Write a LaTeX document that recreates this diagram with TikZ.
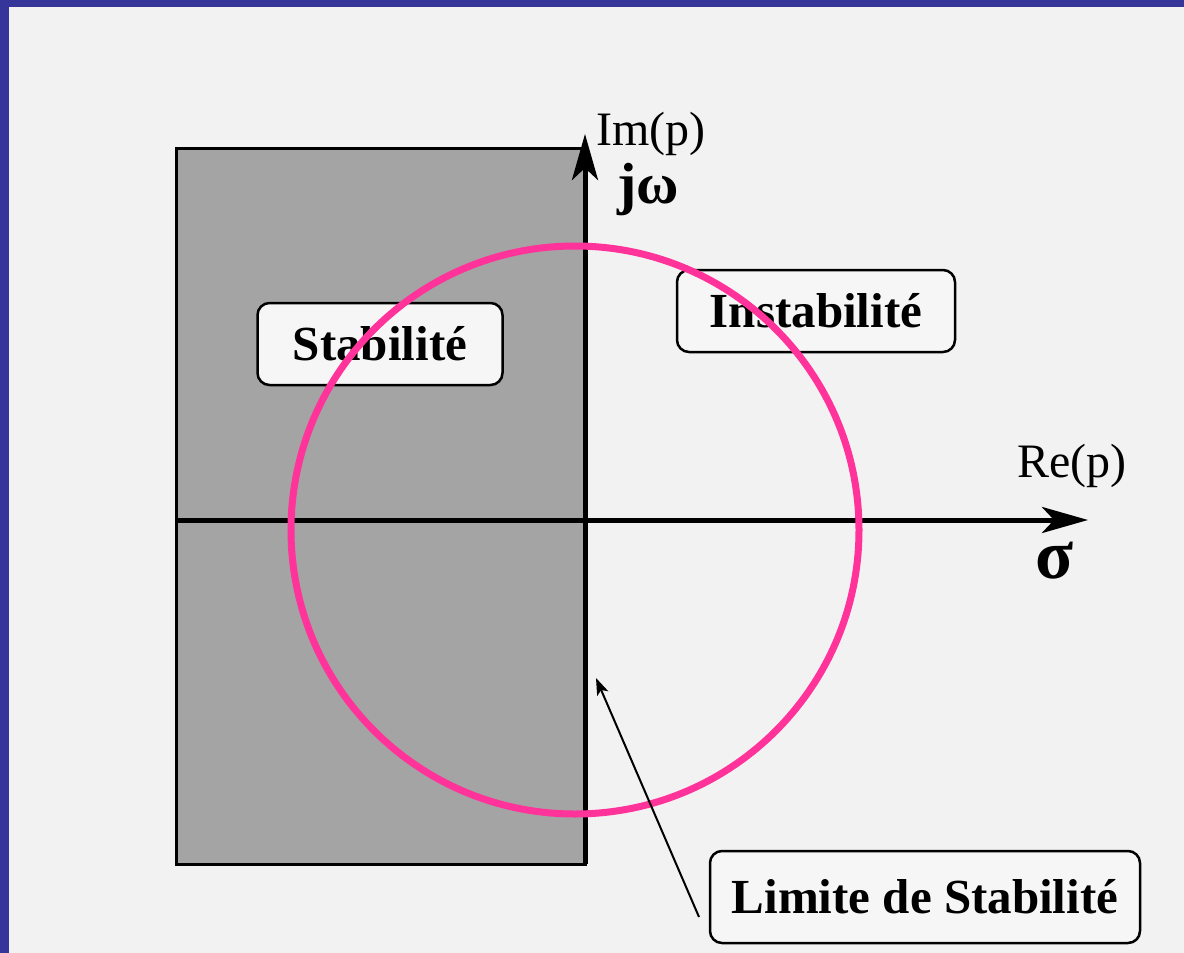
\documentclass[tikz,border=0pt]{standalone}
\usepackage{fontspec}
\setmainfont{Liberation Serif}
\usetikzlibrary{arrows.meta}
\definecolor{bluebord}{RGB}{54,54,154}
\definecolor{paper}{RGB}{242,242,242}
\definecolor{boxfill}{RGB}{246,246,246}
\definecolor{shade}{RGB}{164,164,164}
\definecolor{pinkc}{RGB}{255,51,153}
\begin{document}
\begin{tikzpicture}[x=1pt,y=-1pt,
  lbl/.style={draw=black, line width=2.5pt, rounded corners=12pt, fill=boxfill,
    font=\fontsize{49}{52}\selectfont\bfseries, inner sep=0pt, minimum height=82pt},
  axisarrow/.style={line width=5pt, -{Stealth[length=46pt,width=26pt,inset=12pt]}},
  axlbl/.style={inner sep=0pt, font=\fontsize{48}{52}\selectfont},
  greek/.style={inner sep=0pt, font=\fontsize{58}{62}\selectfont\bfseries}]
\useasboundingbox (0,0) rectangle (1184,953);
\fill[paper] (0,0) rectangle (1184,953);
\fill[bluebord] (0,0) rectangle (1184,7);
\fill[bluebord] (0,0) rectangle (9,953);
% shaded stable half-plane
\draw[line width=3pt, fill=shade] (176,148) rectangle (585,864);
% labels
\node[lbl, minimum width=245pt] (stab) at (380,344) {Stabilité};
\node[lbl, minimum width=278pt] (instab) at (816,311) {Instabilité};
\node[lbl, minimum width=430pt, minimum height=92pt] (lim) at (925,897) {Limite de Stabilité};
% axes
\coordinate (ybot) at (585,864);
\coordinate (ytop) at (585,134);
\coordinate (xleft) at (176,520);
\coordinate (xright) at (1088,520);
\draw[axisarrow] (ybot) -- (ytop);
\draw[axisarrow] (xleft) -- (xright);
\node[axlbl] (im) at (651,134) {Im(p)};
\node[greek] (jw) at (648,190) {jω};
\node[axlbl] (re) at (1072,466) {Re(p)};
\node[inner sep=0pt, font=\fontsize{70}{74}\selectfont\bfseries] (sig) at (1055,561) {σ};
% circle
\node[draw=pinkc, line width=7pt, circle, minimum size=568pt, inner sep=0pt] (circ) at (575,530) {};
% limit arrow
\coordinate (limstart) at (699,917);
\coordinate (limtip) at (596,678);
\draw[line width=2pt, -{Stealth[length=17pt,width=12pt,inset=4pt]}] (limstart) -- (limtip);
\end{tikzpicture}
\end{document}
